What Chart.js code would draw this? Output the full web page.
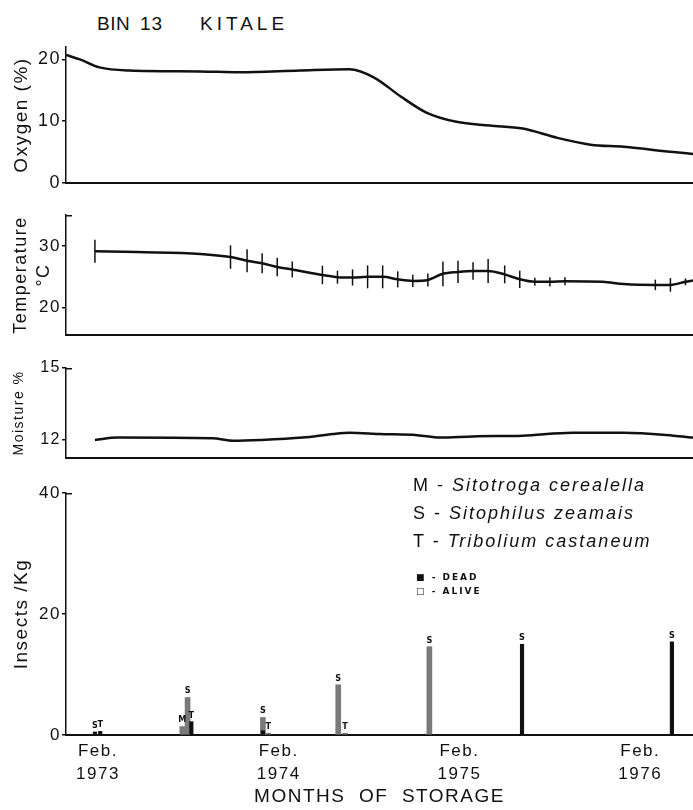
<!DOCTYPE html>
<html>
<head>
<meta charset="utf-8">
<script src="https://cdn.jsdelivr.net/npm/chart.js@4.4.0/dist/chart.umd.min.js"></script>
<style>
  body { margin: 0; background: #fff; }
  #page { position: relative; width: 693px; height: 810px; overflow: hidden; color: #111; }
  canvas { position: absolute; left: 0; }
  .txt { position: absolute; white-space: pre; font-family: "Liberation Sans", sans-serif; }
  .head { font-size: 19px; top: 13px; }
  .key { font-size: 18px; letter-spacing: 2px; left: 413px; }
  .key i { letter-spacing: 2px; }
  .state { font-size: 9px; font-weight: bold; letter-spacing: 2px; left: 416px; font-family: "DejaVu Sans", sans-serif; }
</style>
</head>
<body>
<div id="page">
  <div class="txt head" style="left:97px;letter-spacing:0.5px">BIN</div>
  <div class="txt head" style="left:140px;letter-spacing:1px">13</div>
  <div class="txt head" style="left:200px;letter-spacing:4px">KITALE</div>

  <canvas id="oxygen" width="693" height="160" style="top:35px"></canvas>
  <canvas id="temperature" width="693" height="144" style="top:203px"></canvas>
  <canvas id="moisture" width="693" height="114" style="top:356px"></canvas>
  <canvas id="insects" width="693" height="329" style="top:481px"></canvas>

  <div class="txt key" style="top:475px">M - <i>Sitotroga cerealella</i></div>
  <div class="txt key" style="top:503px">S - <i>Sitophilus zeamais</i></div>
  <div class="txt key" style="top:531px">T - <i>Tribolium castaneum</i></div>
  <div class="txt state" style="top:572px">■ - DEAD</div>
  <div class="txt state" style="top:586px">□ - ALIVE</div>
</div>
<script>
// months counted from Feb. 1973
const monthTicks = [0, 12, 24, 36];
const monthTickLabels = [["Feb.", "1973"], ["Feb.", "1974"], ["Feb.", "1975"], ["Feb.", "1976"]];
const monthMin = -2.12;
const monthMax = 39.5;

const oxygenMonths = [-2.1, -1.2, 0.1, 2.1, 6.8, 9.4, 13.4, 16.7, 18.3, 20.1, 21.8, 23.8, 26.0, 28.2, 30.5, 32.7, 34.9, 38.2, 39.5];
const oxygenValues = [20.7, 20.0, 18.7, 18.2, 18.05, 17.9, 18.2, 18.4, 17.1, 14.0, 11.4, 9.9, 9.3, 8.8, 7.3, 6.2, 5.85, 5.0, 4.7];

const tempMonths = [-0.2, 2.6, 6.8, 8.8, 9.9, 10.9, 11.9, 12.9, 14.9, 15.9, 16.9, 17.9, 18.9, 19.9, 20.9, 21.9, 22.9, 23.9, 24.9, 25.9, 27.0, 28.0, 29.0, 30.0, 31.0, 33.5, 34.9, 37.0, 38.0, 39.0, 39.5];
const tempValues = [29.15, 29.0, 28.7, 28.2, 27.6, 27.2, 26.6, 26.2, 25.3, 24.95, 24.9, 25.0, 25.0, 24.6, 24.35, 24.5, 25.5, 25.8, 25.95, 25.95, 25.4, 24.6, 24.2, 24.2, 24.3, 24.2, 23.85, 23.7, 23.7, 24.2, 24.4];
const tempErr = [1.85, null, null, 1.9, 1.85, 1.6, 1.5, 1.3, 1.5, 1.05, 1.3, 1.85, 1.85, 1.3, 1.0, 1.05, 2.0, 1.8, 1.4, 1.95, 1.45, 1.4, 0.65, 0.75, 0.65, null, null, 0.85, 1.1, 0.55, null];

const moistMonths = [-0.2, 1.3, 7.6, 9.0, 10.8, 13.6, 15.6, 16.7, 18.7, 21.2, 22.7, 24.9, 28.2, 31.5, 34.9, 38.2, 39.5];
const moistValues = [12.0, 12.1, 12.07, 11.97, 12.0, 12.1, 12.25, 12.3, 12.25, 12.2, 12.1, 12.15, 12.18, 12.3, 12.3, 12.18, 12.1];

const insectMonths = [-0.2, 0.15, 5.6, 5.95, 6.2, 10.95, 11.3, 15.95, 16.4, 22.0, 28.15, 38.1];
const insectSpecies = ["S", "T", "M", "S", "T", "S", "T", "S", "T", "S", "S", "S"];
const insectAlive = [0, 0, 1.4, 6.2, 0, 2.9, 0.3, 8.3, 0.3, 14.6, 0, 0];
const insectDead = [0.5, 0.6, 0, 0, 2.2, 0.7, 0, 0, 0, 0, 15.0, 15.4];

const ink = "#111";

// canvas text in the figure is widely tracked
const tracking = {
  id: "tracking",
  beforeDraw(chart) { chart.ctx.letterSpacing = "1.5px"; }
};

const topHook = {
  id: "topHook",
  afterDraw(chart, args, opts) {
    if (!opts.show) return;
    const { ctx, chartArea } = chart;
    ctx.save();
    ctx.strokeStyle = ink;
    ctx.lineWidth = 1.5;
    ctx.beginPath();
    ctx.moveTo(chartArea.left, chartArea.top + 0.75);
    ctx.lineTo(chartArea.left + 6, chartArea.top + 0.75);
    ctx.stroke();
    ctx.restore();
  }
};

const errorBars = {
  id: "errorBars",
  afterDatasetsDraw(chart) {
    const { ctx, scales: { x, y } } = chart;
    ctx.save();
    ctx.strokeStyle = ink;
    ctx.lineWidth = 1.5;
    tempMonths.forEach((m, i) => {
      const e = tempErr[i];
      if (e == null) return;
      const px = x.getPixelForValue(m);
      ctx.beginPath();
      ctx.moveTo(px, y.getPixelForValue(tempValues[i] - e));
      ctx.lineTo(px, y.getPixelForValue(tempValues[i] + e));
      ctx.stroke();
    });
    ctx.restore();
  }
};

const speciesLabels = {
  id: "speciesLabels",
  afterDatasetsDraw(chart) {
    const { ctx, scales: { x, y } } = chart;
    ctx.save();
    ctx.letterSpacing = "0px";
    ctx.font = 'bold 9px "DejaVu Sans Condensed", "DejaVu Sans", sans-serif';
    ctx.fillStyle = ink;
    ctx.textAlign = "center";
    ctx.textBaseline = "bottom";
    insectMonths.forEach((m, i) => {
      const top = Math.max(insectAlive[i], insectDead[i]);
      ctx.fillText(insectSpecies[i], x.getPixelForValue(m), y.getPixelForValue(top) - 2);
    });
    ctx.restore();
  }
};

function xAxis(showLabels) {
  return {
    type: "linear",
    min: monthMin,
    max: monthMax,
    offset: false,
    afterBuildTicks: (s) => { s.ticks = monthTicks.map((v) => ({ value: v })); },
    afterFit: (s) => { if (showLabels) s.height = 75; },
    grid: { display: false, drawTicks: false },
    border: { display: true, color: ink, width: 2 },
    ticks: {
      display: showLabels,
      autoSkip: false,
      maxRotation: 0,
      padding: 4,
      color: ink,
      font: { family: "Liberation Sans", size: 17, lineHeight: 1.4 },
      callback: (v, i) => monthTickLabels[i]
    },
    title: {
      display: showLabels,
      text: "MONTHS  OF  STORAGE",
      color: ink,
      font: { family: "Liberation Sans", size: 19 },
      padding: { top: 0, bottom: 2 }
    }
  };
}

function yAxis(min, max, ticks, title, titleSize, tickSize) {
  return {
    min: min,
    max: max,
    afterBuildTicks: (s) => { s.ticks = ticks.map((v) => ({ value: v })); },
    afterFit: (s) => { s.width = 66; },
    grid: { display: true, drawOnChartArea: false, drawTicks: true, tickLength: 4, color: ink, lineWidth: 1.5 },
    border: { display: true, color: ink, width: 1.5 },
    ticks: { padding: 1, color: ink, font: { family: "Liberation Sans", size: tickSize } },
    title: {
      display: true,
      text: title,
      color: ink,
      font: { family: "Liberation Sans", size: titleSize, lineHeight: 1.25 },
      padding: { top: 10, bottom: 0 }
    }
  };
}

function lineData(months, values) {
  return months.map((m, i) => ({ x: m, y: values[i] }));
}

function lineSet(months, values) {
  return {
    data: lineData(months, values),
    borderColor: ink,
    borderWidth: 2.5,
    pointRadius: 0,
    cubicInterpolationMode: "monotone",
    fill: false
  };
}

function panelOptions(y, showLabels, hook, padBottom) {
  return {
    responsive: false,
    animation: false,
    layout: { padding: { top: 12, bottom: padBottom, left: 0, right: 0 } },
    plugins: { legend: { display: false }, tooltip: { enabled: false }, topHook: { show: hook } },
    scales: { x: xAxis(showLabels), y: y }
  };
}

new Chart(document.getElementById("oxygen"), {
  type: "line",
  data: { datasets: [lineSet(oxygenMonths, oxygenValues)] },
  options: panelOptions(yAxis(0, 22, [0, 10, 20], "Oxygen (%)", 19, 18), false, false, 12),
  plugins: [tracking, topHook]
});

new Chart(document.getElementById("temperature"), {
  type: "line",
  data: { datasets: [lineSet(tempMonths, tempValues)] },
  options: panelOptions(yAxis(15.6, 35, [20, 30], ["Temperature", "°C"], 18, 17), false, true, 12),
  plugins: [tracking, topHook, errorBars]
});

new Chart(document.getElementById("moisture"), {
  type: "line",
  data: { datasets: [lineSet(moistMonths, moistValues)] },
  options: panelOptions(yAxis(11.25, 15, [12, 15], "Moisture %", 14, 16), false, true, 12),
  plugins: [tracking, topHook]
});

const aliveBars = [];
const deadBars = [];
insectMonths.forEach((m, i) => {
  if (insectAlive[i] > 0) aliveBars.push({ x: m, y: insectAlive[i] });
  if (insectDead[i] > 0) deadBars.push({ x: m, y: insectDead[i] });
});

new Chart(document.getElementById("insects"), {
  type: "bar",
  data: {
    datasets: [
      { label: "Dead", data: deadBars, backgroundColor: ink, barThickness: 3.5, grouped: false },
      { label: "Alive", data: aliveBars, backgroundColor: "#7a7a7a", barThickness: 5, grouped: false }
    ]
  },
  options: panelOptions(yAxis(0, 40, [0, 20, 40], "Insects /Kg", 19, 17), true, true, 0),
  plugins: [tracking, topHook, speciesLabels]
});
</script>
</body>
</html>
